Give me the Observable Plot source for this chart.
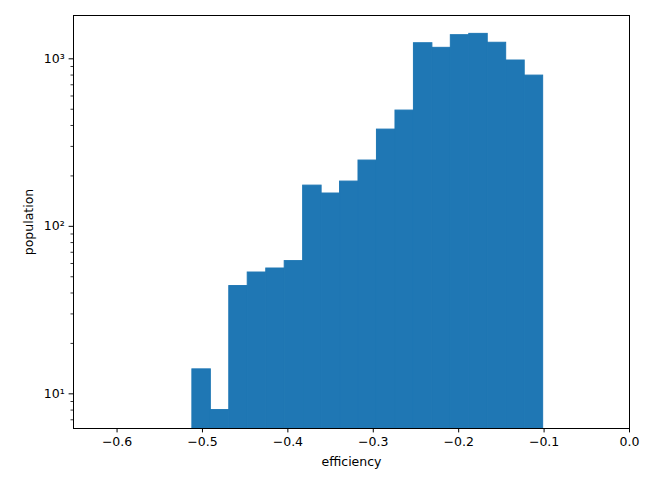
<!DOCTYPE html>
<html>
<head>
<meta charset="utf-8">
<script src="https://cdn.jsdelivr.net/npm/d3@7"></script>
<script src="https://cdn.jsdelivr.net/npm/@observablehq/plot@0.6"></script>
<style>
  html, body { margin: 0; padding: 0; background: #fff; }
  #chart { width: 653px; height: 478px; }
</style>
</head>
<body>
<div id="chart"></div>
<script>
// Histogram bin edges (efficiency) and counts (population)
const binEdges = [-0.5118, -0.4902, -0.4686, -0.4470, -0.4253, -0.4037, -0.3821, -0.3605, -0.3389, -0.3173,
                  -0.2957, -0.2740, -0.2524, -0.2308, -0.2092, -0.1876, -0.1660, -0.1444, -0.1227, -0.1011];
const counts = [14, 8, 44, 53, 56, 62, 175, 157, 185, 247, 378, 491, 1239, 1163, 1384, 1409, 1247, 977, 794];
const xTicks = [-0.6, -0.5, -0.4, -0.3, -0.2, -0.1, 0.0];
const yMajorTicks = [10, 100, 1000];
const yTickLabels = ["10\u00b9", "10\u00b2", "10\u00b3"];
const yMinorTicks = [7, 8, 9, 20, 30, 40, 50, 60, 70, 80, 90, 200, 300, 400, 500, 600, 700, 800, 900];

const bins = counts.map((c, i) => ({x1: binEdges[i], x2: binEdges[i + 1], count: c}));
const fmtX = d => (d === 0 ? "0.0" : d.toFixed(1).replace("-", "\u2212"));
const fmtY = d => yTickLabels[yMajorTicks.indexOf(d)];

const chart = Plot.plot({
  width: 653,
  height: 478,
  marginLeft: 73,
  marginRight: 24,
  marginTop: 15,
  marginBottom: 50,
  style: {fontFamily: "DejaVu Sans", fontSize: "12.5px", color: "#000", background: "#fff", overflow: "visible"},
  x: {domain: [-0.651, 0]},
  y: {type: "log", domain: [6.21, 1814]},
  marks: [
    Plot.rect(bins, {x1: "x1", x2: "x2", y1: 1, y2: "count", fill: "#1f77b4", stroke: "#1f77b4", strokeWidth: 1, clip: true}),
    Plot.frame({stroke: "#000", strokeWidth: 1}),
    Plot.axisX(xTicks, {anchor: "bottom", tickSize: 4.4, tickPadding: 4.4, tickFormat: fmtX,
      label: "efficiency", labelAnchor: "center", labelArrow: "none", labelOffset: 37, stroke: "#000", strokeWidth: 1}),
    Plot.axisY(yMajorTicks, {anchor: "left", tickSize: 4.4, tickPadding: 4.4, tickFormat: fmtY,
      label: "population", labelAnchor: "center", labelArrow: "none", labelOffset: 49, stroke: "#000", strokeWidth: 1}),
    Plot.axisY(yMinorTicks, {anchor: "left", tickSize: 2.5, tickFormat: () => "", label: null, stroke: "#000", strokeWidth: 0.8})
  ]
});
document.getElementById("chart").appendChild(chart);
</script>
</body>
</html>
